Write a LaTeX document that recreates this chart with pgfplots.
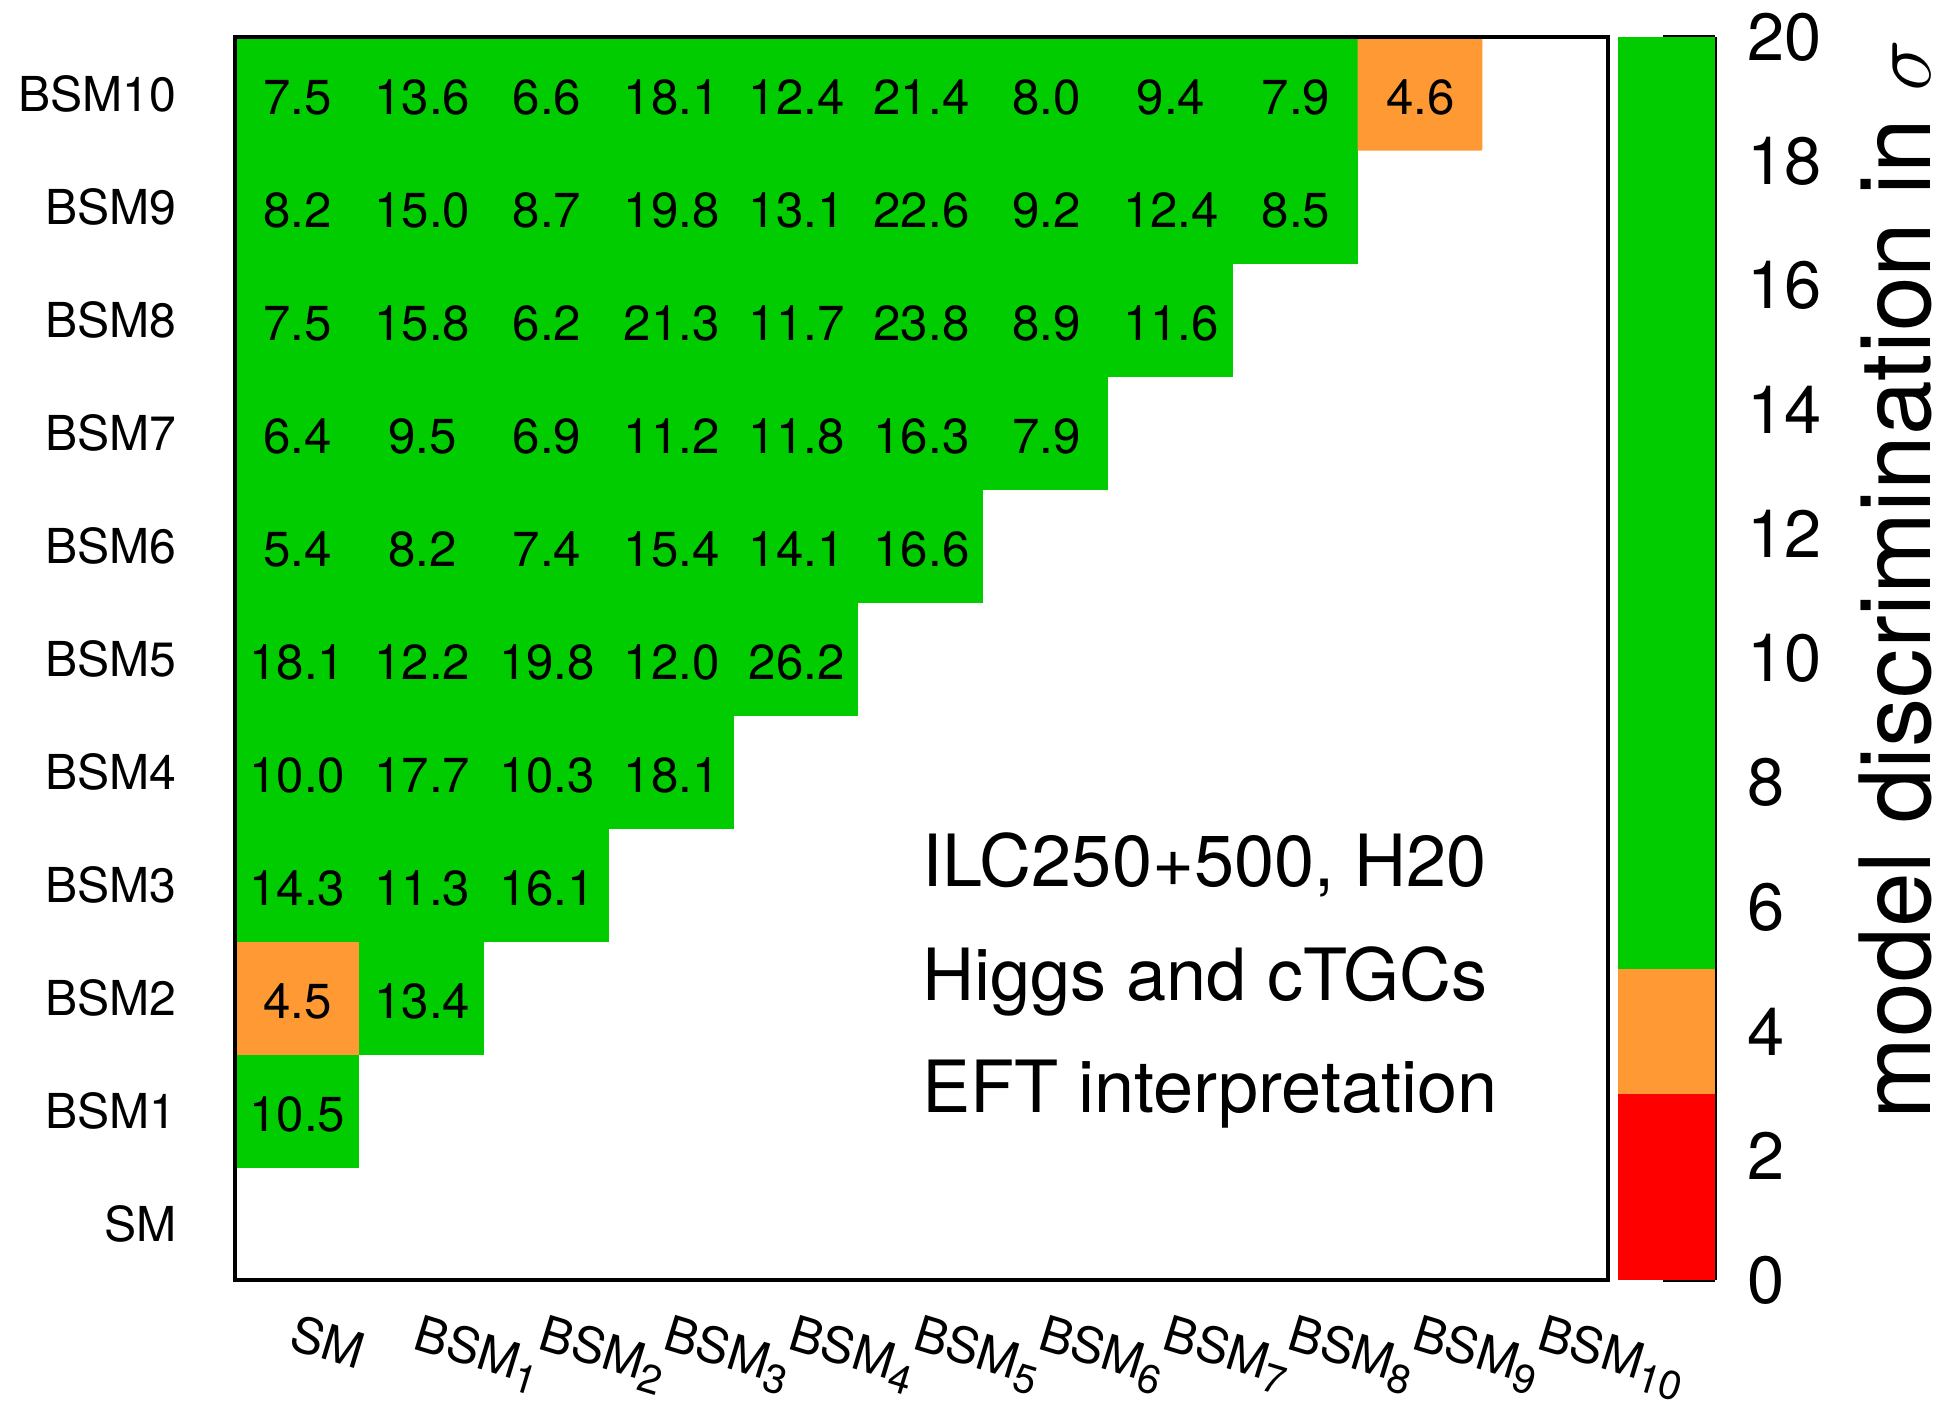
\documentclass[border=0pt]{standalone}
\usepackage{fontspec}
\setmainfont{TeX Gyre Heros}
\usepackage{pgfplots}
\usepackage{pgfplotstable}
\pgfplotsset{compat=1.18}
\definecolor{cbgreen}{RGB}{0,204,0}
\definecolor{cborange}{RGB}{255,153,51}
\definecolor{cbred}{RGB}{255,0,0}
\newcommand\sub[1]{\raisebox{-0.4ex}{\fontsize{11.5}{11.5}\selectfont #1}}
\pgfplotstableread{
x y c
0 0 -1
1 0 -1
2 0 -1
3 0 -1
4 0 -1
5 0 -1
6 0 -1
7 0 -1
8 0 -1
9 0 -1
10 0 -1
0 1 10.5
1 1 -1
2 1 -1
3 1 -1
4 1 -1
5 1 -1
6 1 -1
7 1 -1
8 1 -1
9 1 -1
10 1 -1
0 2 4.5
1 2 13.4
2 2 -1
3 2 -1
4 2 -1
5 2 -1
6 2 -1
7 2 -1
8 2 -1
9 2 -1
10 2 -1
0 3 14.3
1 3 11.3
2 3 16.1
3 3 -1
4 3 -1
5 3 -1
6 3 -1
7 3 -1
8 3 -1
9 3 -1
10 3 -1
0 4 10.0
1 4 17.7
2 4 10.3
3 4 18.1
4 4 -1
5 4 -1
6 4 -1
7 4 -1
8 4 -1
9 4 -1
10 4 -1
0 5 18.1
1 5 12.2
2 5 19.8
3 5 12.0
4 5 26.2
5 5 -1
6 5 -1
7 5 -1
8 5 -1
9 5 -1
10 5 -1
0 6 5.4
1 6 8.2
2 6 7.4
3 6 15.4
4 6 14.1
5 6 16.6
6 6 -1
7 6 -1
8 6 -1
9 6 -1
10 6 -1
0 7 6.4
1 7 9.5
2 7 6.9
3 7 11.2
4 7 11.8
5 7 16.3
6 7 7.9
7 7 -1
8 7 -1
9 7 -1
10 7 -1
0 8 7.5
1 8 15.8
2 8 6.2
3 8 21.3
4 8 11.7
5 8 23.8
6 8 8.9
7 8 11.6
8 8 -1
9 8 -1
10 8 -1
0 9 8.2
1 9 15.0
2 9 8.7
3 9 19.8
4 9 13.1
5 9 22.6
6 9 9.2
7 9 12.4
8 9 8.5
9 9 -1
10 9 -1
0 10 7.5
1 10 13.6
2 10 6.6
3 10 18.1
4 10 12.4
5 10 21.4
6 10 8.0
7 10 9.4
8 10 7.9
9 10 4.6
10 10 -1
}\cells
\begin{document}
\begin{tikzpicture}
\useasboundingbox (-23.5mm,-12.1mm) rectangle (170.8mm,128.0mm);
\begin{axis}[
  at={(0,0)}, anchor=south west,
  scale only axis, width=137.3mm, height=124.3mm,
  xmin=-0.5, xmax=10.5, ymin=-0.5, ymax=10.5,
  enlargelimits=false, axis on top,
  axis line style={line width=1.4pt},
  major tick length=0pt,
  xtick={0,...,10}, ytick={0,...,10},
  xticklabels={SM, BSM\sub{1}, BSM\sub{2}, BSM\sub{3}, BSM\sub{4}, BSM\sub{5}, BSM\sub{6}, BSM\sub{7}, BSM\sub{8}, BSM\sub{9}, BSM\sub{10}},
  yticklabels={SM, BSM1, BSM2, BSM3, BSM4, BSM5, BSM6, BSM7, BSM8, BSM9, BSM10},
  xticklabel style={yshift=-3.2mm, rotate=-17, anchor=north west, inner sep=0pt, font=\fontsize{14}{14}\selectfont},
  yticklabel style={anchor=east, inner sep=0pt, xshift=-5.8mm, font=\fontsize{13.7}{13.7}\selectfont},
  colormap={cmap}{color(-1)=(white) color(0)=(cbred) color(3)=(cborange) color(5)=(cbgreen) color(20)=(cbgreen)},
  colormap access=piecewise constant,
  point meta min=-1, point meta max=20,
]
\addplot[matrix plot*, mesh/cols=11, point meta=explicit] table[x=x, y=y, meta=c] {\cells};
\addplot[only marks, mark=none,
  x filter/.expression={\thisrow{c}<0 ? nan : x},
  point meta=explicit symbolic, nodes near coords, nodes near coords align={center},
  every node near coord/.append style={anchor=center, yshift=-0.4mm, font=\fontsize{14}{14}\selectfont, text=black}]
  table[x=x, y=y, meta=c] {\cells};
\node[anchor=base west, font=\fontsize{20.5}{24}\selectfont] at (axis cs:4.91,2.98) {ILC250+500, H20};
\node[anchor=base west, font=\fontsize{20.5}{24}\selectfont] at (axis cs:4.91,1.97) {Higgs and cTGCs};
\node[anchor=base west, font=\fontsize{20.5}{24}\selectfont] at (axis cs:4.91,0.98) {EFT interpretation};
\end{axis}
\begin{axis}[
  at={(138.3mm,0)}, anchor=south west,
  scale only axis, width=9.7mm, height=124.3mm,
  xmin=0, xmax=1, ymin=0, ymax=20,
  enlargelimits=false,
  axis x line=none, axis y line*=right,
  y axis line style={line width=1.4pt},
  ytick={0,2,...,20}, ytick align=inside,
  major tick length=5.2mm,
  major tick style={line width=1pt, black},
  /pgf/number format/assume math mode=true,
  yticklabel style={anchor=west, inner sep=0pt, xshift=3.2mm, font=\fontsize{19}{19}\selectfont},
]
\addplot[fill=cbgreen, draw=none] coordinates {(0,20) (1,20)} \closedcycle;
\addplot[fill=cborange, draw=none] coordinates {(0,5) (1,5)} \closedcycle;
\addplot[fill=cbred, draw=none] coordinates {(0,3) (1,3)} \closedcycle;
\end{axis}
\node[rotate=90, anchor=base east, font=\fontsize{28}{28}\selectfont] at (169.5mm,125.3mm) {model discrimination in $\sigma$};
\end{tikzpicture}
\end{document}
